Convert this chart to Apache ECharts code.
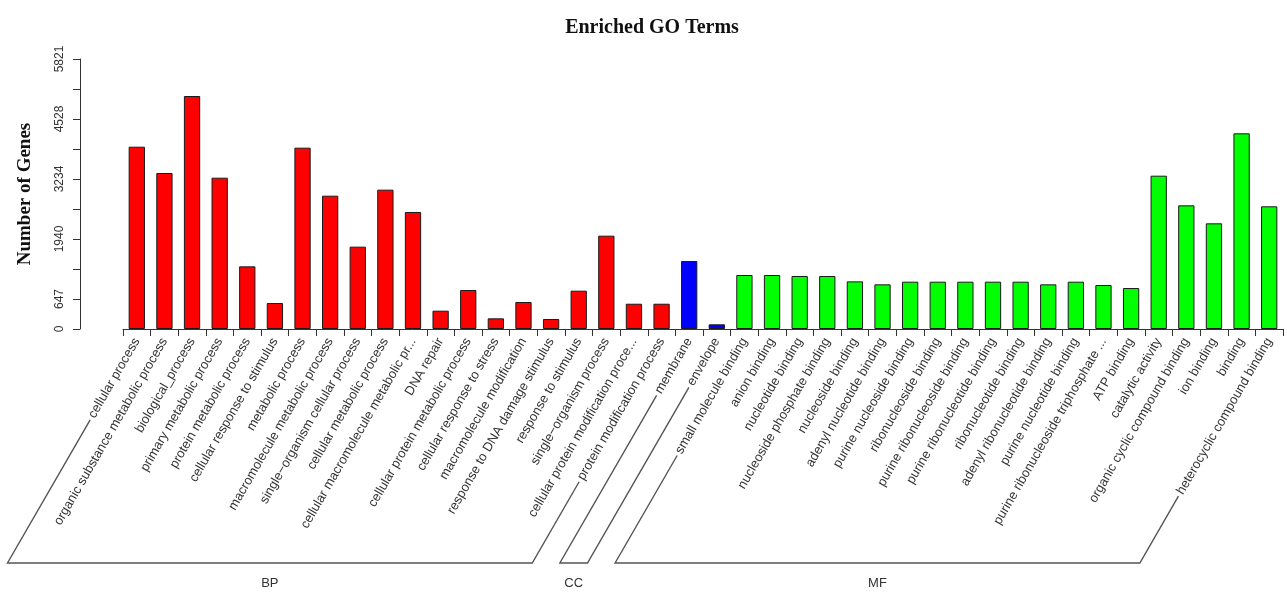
<!DOCTYPE html>
<html>
<head>
<meta charset="utf-8">
<script src="https://cdn.jsdelivr.net/npm/echarts@6/dist/echarts.min.js"></script>
<style>
  html, body { margin: 0; padding: 0; background: #ffffff; }
  #chart { width: 1287px; height: 595px; }
</style>
</head>
<body>
<div id="chart"></div>
<script>
// GO terms per ontology, in plotting order
const bpTerms = [
  'cellular process', 'organic substance metabolic process', 'biological_process',
  'primary metabolic process', 'protein metabolic process', 'cellular response to stimulus',
  'metabolic process', 'macromolecule metabolic process', 'single\u2212organism cellular process',
  'cellular metabolic process', 'cellular macromolecule metabolic pr...', 'DNA repair',
  'cellular protein metabolic process', 'cellular response to stress', 'macromolecule modification',
  'response to DNA damage stimulus', 'response to stimulus', 'single\u2212organism process',
  'cellular protein modification proce...', 'protein modification process'
];
const ccTerms = ['membrane', 'envelope'];
const mfTerms = [
  'small molecule binding', 'anion binding', 'nucleotide binding', 'nucleoside phosphate binding',
  'nucleoside binding', 'adenyl nucleotide binding', 'purine nucleoside binding',
  'ribonucleoside binding', 'purine ribonucleoside binding', 'purine ribonucleotide binding',
  'ribonucleotide binding', 'adenyl ribonucleotide binding', 'purine nucleotide binding',
  'purine ribonucleoside triphosphate ...', 'ATP binding', 'catalytic activity',
  'organic cyclic compound binding', 'ion binding', 'binding', 'heterocyclic compound binding'
];

// Number of genes annotated to each term
const bpCounts = [3930, 3363, 5023, 3262, 1351, 560, 3909, 2874, 1775, 3004,
                  2523, 395, 841, 230, 582, 216, 826, 2012, 545, 545];
const ccCounts = [1466, 101];
const mfCounts = [1164, 1164, 1142, 1142, 1027, 963, 1020, 1020, 1020, 1020,
                  1020, 963, 1020, 948, 883, 3305, 2666, 2278, 4219, 2645];

const groupNames = ['BP', 'CC', 'MF'];
const groupColors = { BP: '#ff0000', CC: '#0000ff', MF: '#00ff00' };

// y axis: ten ticks from 0 to the maximum, only some of them labelled
const yMax = 5821;
const yTickLabels = ['0', '647', '', '1940', '', '3234', '', '4528', '', '5821'];
const yStep = yMax / (yTickLabels.length - 1);

const groupTerms = [bpTerms, ccTerms, mfTerms];
const groupCounts = [bpCounts, ccCounts, mfCounts];

const categories = [];
const barData = [];
const groupRanges = [];
groupNames.forEach((g, gi) => {
  const first = categories.length;
  groupTerms[gi].forEach((t, k) => {
    categories.push(t);
    barData.push({ value: groupCounts[gi][k], itemStyle: { color: groupColors[g] } });
  });
  groupRanges.push({ name: g, first: first, last: categories.length - 1 });
});

const SANS = '"Liberation Sans", Arial, Helvetica, sans-serif';
const SERIF = '"Liberation Serif", "Times New Roman", serif';
const LABEL_SIZE = 13;
const LABEL_ROTATE = 60;
const LABEL_MARGIN = 10;

const chart = echarts.init(document.getElementById('chart'), null, { renderer: 'canvas' });

const option = {
  animation: false,
  backgroundColor: '#ffffff',
  title: {
    text: 'Enriched GO Terms',
    left: 647,
    textAlign: 'center',
    top: 13,
    textStyle: { fontFamily: SERIF, fontWeight: 'bold', fontSize: 20, color: '#111' }
  },
  grid: { left: 123, right: 4, top: 59, bottom: 266, containLabel: false, outerBoundsMode: 'none' },
  xAxis: {
    type: 'category',
    data: categories,
    boundaryGap: true,
    axisLine: { show: true, lineStyle: { color: '#333', width: 1 } },
    axisTick: { show: true, length: 7, interval: 0, alignWithLabel: false, lineStyle: { color: '#333' } },
    axisLabel: {
      interval: 0, rotate: LABEL_ROTATE, margin: LABEL_MARGIN,
      fontSize: LABEL_SIZE, color: '#333', fontFamily: SANS
    },
    splitLine: { show: false }
  },
  yAxis: {
    type: 'value',
    min: 0,
    max: yMax,
    interval: yStep,
    offset: 43,
    axisLine: { show: true, lineStyle: { color: '#333', width: 1 } },
    axisTick: { show: true, length: 7, lineStyle: { color: '#333' } },
    splitLine: { show: false },
    axisLabel: {
      rotate: 90, margin: 14, fontSize: 12, color: '#333', fontFamily: SANS,
      formatter: function (v) {
        const k = Math.round(v / yStep);
        return yTickLabels[k] || '';
      }
    },
    name: 'Number of Genes',
    nameLocation: 'middle',
    nameRotate: 90,
    nameGap: 45,
    nameTextStyle: { fontFamily: SERIF, fontWeight: 'bold', fontSize: 19, color: '#111' }
  },
  series: [{
    type: 'bar',
    barWidth: '59%',
    data: barData,
    itemStyle: { borderColor: '#1a1a1a', borderWidth: 1 }
  }]
};

chart.setOption(option);

// Group brackets: a slanted leg running along the first and last label
// of each ontology, joined by a baseline with the ontology name under it.
const measureCtx = document.createElement('canvas').getContext('2d');
measureCtx.font = LABEL_SIZE + 'px ' + SANS;
const ang = LABEL_ROTATE * Math.PI / 180;
const axisY = chart.convertToPixel({ yAxisIndex: 0 }, 0);
const bracketY = 563;
const legGap = 3;

function labelStart(i) {
  const cx = chart.convertToPixel({ xAxisIndex: 0 }, i);
  const w = measureCtx.measureText(categories[i]).width + legGap;
  return [cx - w * Math.cos(ang), axisY + LABEL_MARGIN + w * Math.sin(ang)];
}
function footOf(p) {
  return [p[0] - (bracketY - p[1]) / Math.tan(ang), bracketY];
}

const graphics = [];
groupRanges.forEach(gr => {
  const a = labelStart(gr.first);
  const b = labelStart(gr.last);
  const fa = footOf(a);
  const fb = footOf(b);
  graphics.push({
    type: 'polyline',
    shape: { points: [a, fa, fb, b] },
    style: { stroke: '#555', lineWidth: 1.4, fill: null },
    silent: true
  });
  graphics.push({
    type: 'text',
    x: (fa[0] + fb[0]) / 2,
    y: bracketY + 20,
    style: {
      text: gr.name, fontFamily: SANS, fontSize: 13, fill: '#333',
      align: 'center', verticalAlign: 'middle'
    },
    silent: true
  });
});
chart.setOption({ graphic: graphics });
</script>
</body>
</html>
